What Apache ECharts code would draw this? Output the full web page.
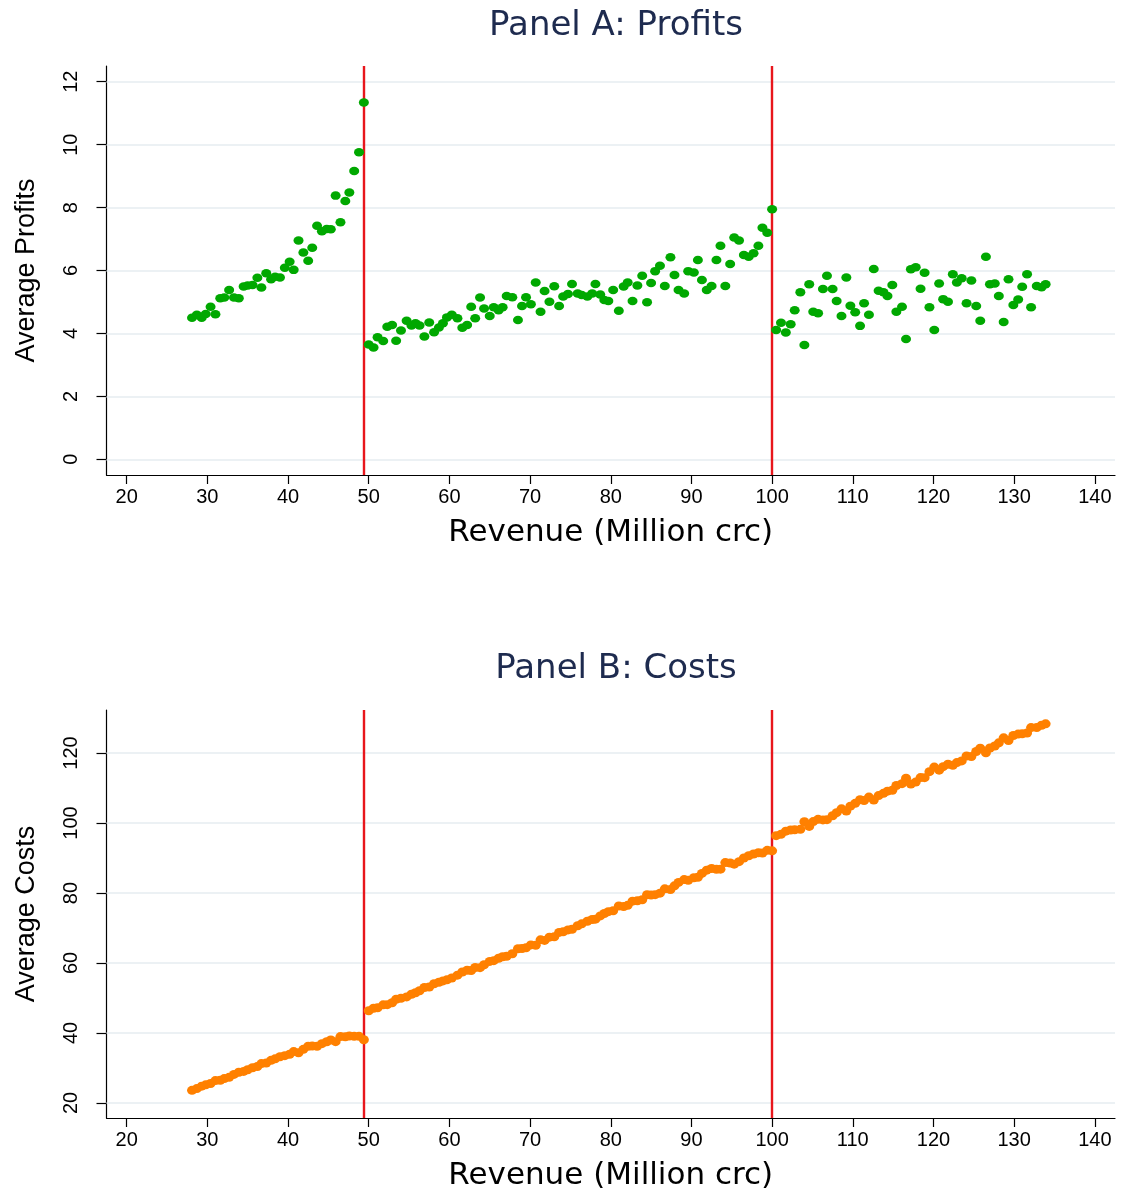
<!DOCTYPE html>
<html><head><meta charset="utf-8">
<script src="https://cdn.jsdelivr.net/npm/echarts@6/dist/echarts.min.js"></script>
<style>html,body{margin:0;padding:0;background:#fff}#c{width:1122px;height:1188px}</style>
</head><body><div id="c"></div>
<script>
// Revenue bins (Million crc)
const revenue = [
 28.1,28.7,29.3,29.8,30.4,31.0,31.6,32.1,32.7,33.3,33.9,34.5,35.0,35.6,36.2,36.7,37.3,37.9,38.4,39.0,
 39.6,40.2,40.7,41.3,41.9,42.5,43.0,43.6,44.2,44.8,45.3,45.9,46.5,47.1,47.6,48.2,48.8,49.4,
 50.0,50.6,51.1,51.8,52.3,52.9,53.4,54.0,54.7,55.3,55.8,56.3,56.9,57.5,58.1,58.7,59.2,59.7,60.3,61.0,
 61.6,62.2,62.7,63.2,63.8,64.3,65.0,65.5,66.1,66.6,67.1,67.8,68.5,69.0,69.5,70.1,70.7,71.3,71.8,72.4,
 73.0,73.6,74.1,74.7,75.2,75.9,76.4,77.1,77.7,78.1,78.7,79.2,79.7,80.3,81.0,81.6,82.1,82.7,83.3,83.9,
 84.5,85.0,85.5,86.1,86.7,87.4,87.9,88.4,89.1,89.6,90.3,90.8,91.3,91.9,92.5,93.1,93.6,94.2,94.8,95.3,
 95.9,96.5,97.1,97.7,98.3,98.8,99.4,100.0,
 100.5,101.1,101.7,102.3,102.8,103.5,104.0,104.6,105.1,105.7,106.3,106.8,107.5,108.0,108.6,109.2,109.7,110.3,110.9,111.4,
 112.0,112.6,113.2,113.8,114.3,114.9,115.4,116.1,116.6,117.2,117.8,118.4,118.9,119.5,120.1,120.7,121.2,121.8,122.4,122.9,
 123.5,124.1,124.7,125.3,125.8,126.5,127.0,127.6,128.1,128.7,129.3,129.9,130.5,131.0,131.6,132.1,132.8,133.4,133.9
];
// Average profits
const profits = [
 4.50,4.59,4.50,4.62,4.85,4.61,5.12,5.14,5.38,5.14,5.12,5.49,5.52,5.54,5.77,5.46,5.91,5.72,5.80,5.78,
 6.09,6.28,6.02,6.95,6.57,6.31,6.72,7.42,7.25,7.32,7.31,8.38,7.53,8.21,8.48,9.16,9.76,11.34,
 3.65,3.55,3.88,3.76,4.21,4.27,3.77,4.09,4.40,4.25,4.32,4.25,3.90,4.35,4.04,4.19,4.32,4.51,4.59,4.48,
 4.18,4.27,4.85,4.48,5.14,4.79,4.55,4.83,4.74,4.83,5.19,5.15,4.43,4.87,5.15,4.93,5.62,4.69,5.35,5.01,
 5.50,4.87,5.17,5.25,5.57,5.27,5.22,5.17,5.27,5.57,5.24,5.06,5.03,5.38,4.72,5.49,5.62,5.03,5.52,5.83,
 4.99,5.60,5.98,6.15,5.51,6.42,5.86,5.38,5.27,5.98,5.94,6.33,5.70,5.38,5.51,6.33,6.79,5.51,6.21,7.05,
 6.95,6.49,6.44,6.55,6.79,7.36,7.20,7.95,
 4.11,4.34,4.03,4.29,4.74,5.31,3.63,5.56,4.69,4.64,5.41,5.83,5.41,5.03,4.55,5.78,4.88,4.67,4.24,4.96,
 4.59,6.05,5.36,5.31,5.19,5.54,4.69,4.85,3.82,6.04,6.10,5.42,5.93,4.83,4.11,5.59,5.09,5.01,5.88,5.62,
 5.75,4.96,5.68,4.87,4.40,6.44,5.56,5.59,5.19,4.36,5.72,4.90,5.08,5.48,5.88,4.83,5.51,5.47,5.56
];
// Average costs
const costs = [
 23.60,24.11,24.80,25.18,25.55,26.39,26.48,26.96,27.32,28.16,28.78,29.01,29.48,30.06,30.43,31.24,31.39,32.18,32.60,33.22,
 33.51,33.92,34.68,34.35,35.33,36.19,36.28,36.18,36.95,37.48,37.99,37.52,38.97,38.89,39.12,39.04,39.04,38.06,
 46.35,47.05,47.22,48.04,48.09,48.63,49.63,49.91,50.30,51.05,51.48,52.05,53.00,53.15,54.06,54.51,54.88,55.19,55.71,56.52,
 57.42,57.93,57.85,58.72,58.66,59.51,60.45,60.67,61.36,61.77,61.91,62.65,64.07,64.13,64.35,65.17,65.08,66.61,66.45,67.39,
 67.50,68.73,68.93,69.45,69.63,70.63,71.18,71.93,72.43,72.53,73.46,74.14,74.67,74.92,76.28,76.11,76.48,77.67,77.78,78.07,
 79.51,79.40,79.52,79.95,81.19,80.98,82.04,83.02,83.83,83.62,84.36,84.47,85.60,86.52,86.99,86.77,86.81,88.69,88.59,88.25,
 88.95,90.01,90.66,91.15,91.51,91.44,92.20,92.05,
 96.39,96.76,97.67,98.01,98.06,98.19,100.37,99.04,100.41,101.06,100.89,100.97,102.09,102.97,104.05,103.42,104.82,105.63,106.66,106.44,
 107.41,106.55,107.84,108.49,109.11,109.36,110.71,111.25,112.78,111.16,111.70,112.98,112.97,114.67,115.99,115.11,116.11,116.79,116.52,117.28,
 117.75,119.14,119.02,120.43,121.40,120.06,121.44,122.01,122.91,124.34,123.58,125.00,125.42,125.52,125.72,127.27,127.29,127.93,128.34
];
const xTicks = [20,30,40,50,60,70,80,90,100,110,120,130,140];
const profitTicks = [0,2,4,6,8,10,12];
const costTicks = [20,40,60,80,100,120];
const thresholds = [49.4, 100];
const titles = ['Panel A: Profits', 'Panel B: Costs'];
const xName = 'Revenue (Million crc)';
const yNames = ['Average Profits', 'Average Costs'];

const profitData = revenue.map((r, i) => [r, profits[i]]);
const costData = revenue.map((r, i) => [r, costs[i]]);

const FONT = 'Liberation Sans, Arial, sans-serif';
const WIDE = 'DejaVu Sans, Verdana, sans-serif';
const TITLE_COLOR = '#1e2b4f';

function xAxis(gi) {
  return {
    type: 'value', gridIndex: gi, min: 17.5, max: 142.5,
    name: xName, nameLocation: 'middle', nameGap: 42,
    nameTextStyle: { fontFamily: WIDE, fontSize: 31, color: '#000' },
    axisLine: { show: true, onZero: false, lineStyle: { color: '#000', width: 1.2 } },
    axisTick: { show: true, length: 9, customValues: xTicks, lineStyle: { color: '#000', width: 1.2 } },
    axisLabel: { customValues: xTicks, margin: 12, fontFamily: FONT, fontSize: 20, color: '#000' },
    splitLine: { show: false }
  };
}
function yAxis(gi, min, max, ticks, name) {
  return {
    type: 'value', gridIndex: gi, min: min, max: max,
    name: name, nameLocation: 'middle', nameGap: 66,
    nameTextStyle: { fontFamily: FONT, fontSize: 27, color: '#000' },
    axisLine: { show: true, onZero: false, lineStyle: { color: '#000', width: 1.2 } },
    axisTick: { show: true, length: 10, customValues: ticks, lineStyle: { color: '#000', width: 1.2 } },
    axisLabel: { customValues: ticks, rotate: 90, margin: 25, fontFamily: FONT, fontSize: 20, color: '#000' },
    splitLine: { show: false }
  };
}
function gridLines(ticks) {
  return {
    silent: true, symbol: 'none', animation: false, z: 1,
    label: { show: false },
    lineStyle: { color: '#e6edf1', width: 1.5, type: 'solid' },
    data: ticks.map(v => ({ yAxis: v }))
  };
}
function redLines() {
  return {
    silent: true, symbol: 'none', animation: false, z: 2,
    label: { show: false },
    lineStyle: { color: '#e8161c', width: 2.4, type: 'solid' },
    data: thresholds.map(v => ({ xAxis: v }))
  };
}

const chart = echarts.init(document.getElementById('c'));
chart.setOption({
  backgroundColor: '#fff',
  animation: false,
  title: [
    { text: titles[0], left: 611, top: 4, textAlign: 'center',
      textStyle: { fontFamily: WIDE, fontSize: 34, fontWeight: 'normal', color: TITLE_COLOR } },
    { text: titles[1], left: 611, top: 647, textAlign: 'center',
      textStyle: { fontFamily: WIDE, fontSize: 34, fontWeight: 'normal', color: TITLE_COLOR } }
  ],
  grid: [
    { left: 106.5, top: 66, width: 1008.5, height: 409, containLabel: false, outerBoundsMode: 'none' },
    { left: 106.5, top: 710, width: 1008.5, height: 408, containLabel: false, outerBoundsMode: 'none' }
  ],
  xAxis: [xAxis(0), xAxis(1)],
  yAxis: [
    yAxis(0, -0.5, 12.5, profitTicks, yNames[0]),
    yAxis(1, 15.7, 132.3, costTicks, yNames[1])
  ],
  series: [
    { type: 'scatter', xAxisIndex: 0, yAxisIndex: 0, data: [], z: 1, markLine: gridLines(profitTicks) },
    { type: 'scatter', xAxisIndex: 1, yAxisIndex: 1, data: [], z: 1, markLine: gridLines(costTicks) },
    { type: 'scatter', xAxisIndex: 0, yAxisIndex: 0, data: [], z: 2, markLine: redLines() },
    { type: 'scatter', xAxisIndex: 1, yAxisIndex: 1, data: [], z: 2, markLine: redLines() },
    { type: 'scatter', xAxisIndex: 0, yAxisIndex: 0, data: profitData, z: 3,
      symbol: 'circle', symbolSize: [10, 8.5], itemStyle: { color: '#00a800', opacity: 1 } },
    { type: 'scatter', xAxisIndex: 1, yAxisIndex: 1, data: costData, z: 3,
      symbol: 'circle', symbolSize: [10, 9], itemStyle: { color: '#ff8000', opacity: 1 } }
  ]
});
</script>
</body></html>
